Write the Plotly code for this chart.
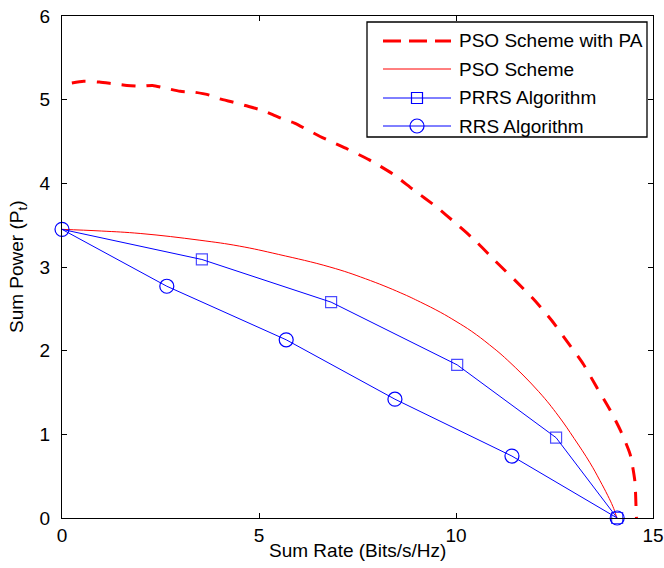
import plotly.graph_objects as go

# ---- data ----
pa_x = [0.25, 0.55, 0.95, 1.3, 1.65, 2.0, 2.3, 2.6, 3.0, 3.35, 3.7, 4.0, 4.35, 4.65,
        5.03, 5.3, 5.65, 5.9, 6.55, 7.2, 7.8, 8.4, 8.9, 9.5, 10.0, 10.5, 11.0, 11.5,
        12.0, 12.43, 12.85, 13.23, 13.55, 13.9, 14.18, 14.42, 14.54, 14.57, 14.58]
pa_y = [5.20, 5.22, 5.21, 5.19, 5.17, 5.16, 5.17, 5.14, 5.10, 5.09, 5.06, 5.01, 4.97, 4.93,
        4.88, 4.83, 4.76, 4.72, 4.56, 4.42, 4.28, 4.11, 3.93, 3.72, 3.52, 3.31, 3.07, 2.84,
        2.60, 2.36, 2.09, 1.84, 1.58, 1.30, 1.04, 0.76, 0.44, 0.12, 0.0]

pso_x = [0, 1, 2, 3.5, 4.5, 5.5, 6.8, 7.7, 8.6, 9.1, 9.6, 10.0, 10.4, 10.85, 11.3,
         12.1, 12.6, 13.0, 13.4, 13.65, 13.85, 13.98, 14.05, 14.08]
pso_y = [3.45, 3.43, 3.40, 3.32, 3.25, 3.15, 3.00, 2.86, 2.69, 2.58, 2.46, 2.35, 2.23,
         2.07, 1.89, 1.51, 1.22, 0.95, 0.66, 0.45, 0.27, 0.14, 0.05, 0.0]

prrs_x = [0, 3.55, 6.83, 10.03, 12.54, 14.09]
prrs_y = [3.45, 3.09, 2.58, 1.83, 0.96, 0.0]

rrs_x = [0, 2.66, 5.69, 8.45, 11.42, 14.09]
rrs_y = [3.45, 2.77, 2.13, 1.42, 0.74, 0.0]

legend_names = ["PSO Scheme with PA", "PSO Scheme", "PRRS Algorithm", "RRS Algorithm"]
x_ticks = [0, 5, 10, 15]
y_ticks = [0, 1, 2, 3, 4, 5, 6]
x_title = "Sum Rate (Bits/s/Hz)"
y_title = "Sum Power (P<sub>t</sub>)"

RED = "rgb(255,0,0)"
BLUE = "rgb(0,0,255)"
FONT = "Liberation Sans, Arial, Helvetica, sans-serif"
FS = 19

W, H = 664, 568
L, R, T, B = 62, 653, 16, 518  # plot area in pixels

fig = go.Figure()
fig.add_trace(go.Scatter(x=pa_x, y=pa_y, mode="lines", line_shape="spline",
                         line=dict(color=RED, width=3, dash="14px,11px", smoothing=0.6),
                         name=legend_names[0], showlegend=False))
fig.add_trace(go.Scatter(x=pso_x, y=pso_y, mode="lines", line_shape="spline",
                         line=dict(color=RED, width=1, smoothing=1.2),
                         name=legend_names[1], showlegend=False))
fig.add_trace(go.Scatter(x=prrs_x, y=prrs_y, mode="lines+markers",
                         line=dict(color=BLUE, width=1),
                         marker=dict(symbol="square-open", color=BLUE,
                                     size=[0] + [11] * (len(prrs_x) - 1),
                                     line=dict(width=1.2, color=BLUE)),
                         cliponaxis=False,
                         name=legend_names[2], showlegend=False))
fig.add_trace(go.Scatter(x=rrs_x, y=rrs_y, mode="lines+markers",
                         line=dict(color=BLUE, width=1),
                         marker=dict(symbol="circle-open", color=BLUE, size=14,
                                     line=dict(width=1.2, color=BLUE)),
                         cliponaxis=False,
                         name=legend_names[3], showlegend=False))

# ---- manual legend (MATLAB style) ----
def px(xp):
    return (xp - L) / (R - L)

def py(yp):
    return (B - yp) / (B - T)

shapes = []
annotations = []
shapes.append(dict(type="rect", xref="paper", yref="paper",
                   x0=px(367), x1=px(647), y0=py(137), y1=py(22),
                   line=dict(color="black", width=1.3), fillcolor="white", layer="above"))
rows = [41, 69, 98, 126]
styles = [dict(color=RED, width=3, dash="18px,8px"),
          dict(color=RED, width=1),
          dict(color=BLUE, width=1),
          dict(color=BLUE, width=1)]
for i, (yy, st) in enumerate(zip(rows, styles)):
    shapes.append(dict(type="line", xref="paper", yref="paper",
                       x0=px(383), x1=px(451), y0=py(yy), y1=py(yy), line=st, layer="above"))
    annotations.append(dict(xref="paper", yref="paper", x=px(457), y=py(yy),
                            text=legend_names[i], showarrow=False, xanchor="left",
                            yanchor="middle", font=dict(family=FONT, size=FS, color="black")))
shapes.append(dict(type="rect", xref="paper", yref="paper", xsizemode="pixel", ysizemode="pixel",
                   xanchor=px(417), yanchor=py(rows[2]), x0=-5.5, x1=5.5, y0=-5.5, y1=5.5,
                   line=dict(color=BLUE, width=1.2), layer="above"))
shapes.append(dict(type="circle", xref="paper", yref="paper", xsizemode="pixel", ysizemode="pixel",
                   xanchor=px(417), yanchor=py(rows[3]), x0=-7, x1=7, y0=-7, y1=7,
                   line=dict(color=BLUE, width=1.2), layer="above"))

# axis titles
annotations.append(dict(xref="paper", yref="paper", x=0.5, y=py(550), text=x_title,
                        showarrow=False, xanchor="center", yanchor="middle",
                        font=dict(family=FONT, size=FS, color="black")))
annotations.append(dict(xref="paper", yref="paper", x=px(18), y=0.5, text=y_title,
                        showarrow=False, xanchor="center", yanchor="middle", textangle=-90,
                        font=dict(family=FONT, size=FS, color="black")))

axis_common = dict(showline=True, linecolor="black", linewidth=1.3, mirror="ticks",
                   ticks="inside", ticklen=5, tickcolor="black", tickwidth=1,
                   showgrid=False, zeroline=False, automargin=False,
                   tickfont=dict(family=FONT, size=FS, color="black"))

fig.update_layout(
    width=W, height=H,
    margin=dict(l=L, r=W - R, t=T, b=H - B),
    paper_bgcolor="white", plot_bgcolor="white",
    showlegend=False,
    font=dict(family=FONT, size=FS, color="black"),
    xaxis=dict(range=[0, 15], tickvals=x_ticks, ticktext=[str(v) for v in x_ticks],
               **axis_common),
    yaxis=dict(range=[0, 6], tickvals=y_ticks, ticktext=[str(v) for v in y_ticks],
               ticklabelstandoff=7, **axis_common),
    shapes=shapes, annotations=annotations,
)

fig.write_html("out.html")
